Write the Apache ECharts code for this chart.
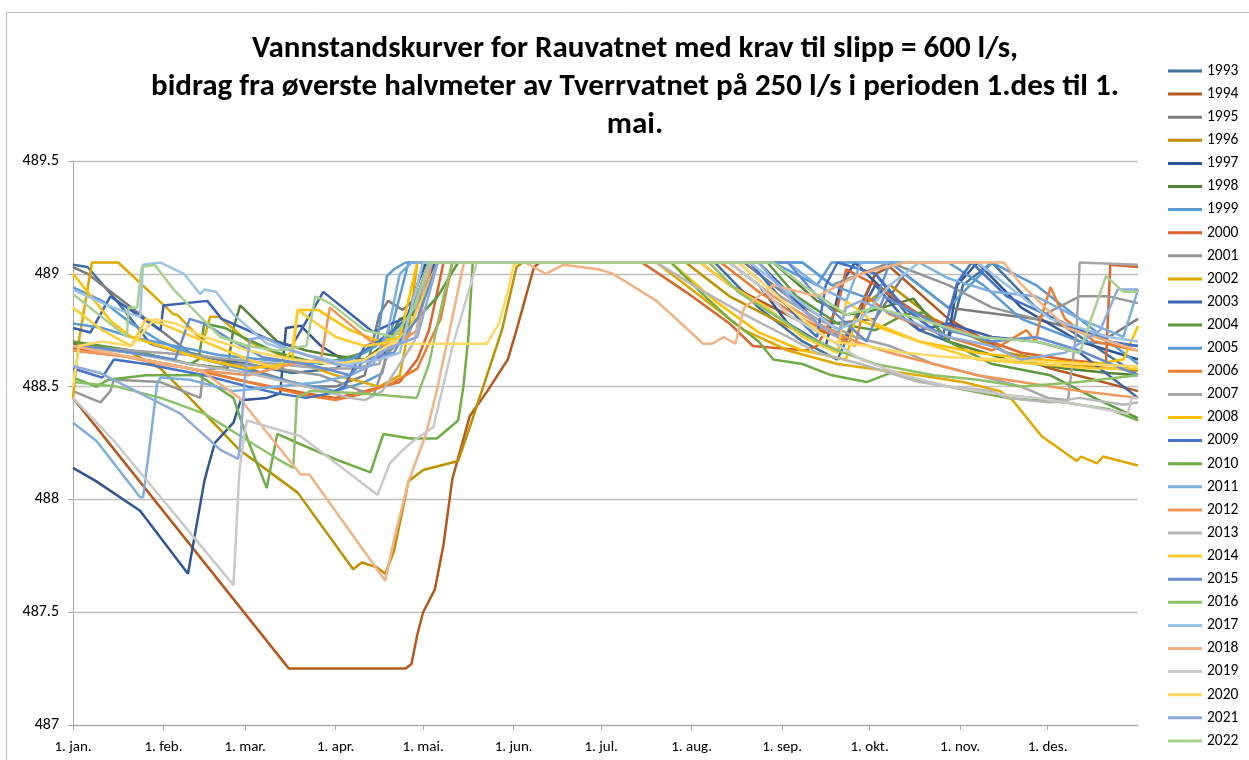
<!DOCTYPE html>
<html>
<head>
<meta charset="utf-8">
<script src="https://cdn.jsdelivr.net/npm/echarts@6/dist/echarts.min.js"></script>
<style>
  html, body { margin: 0; padding: 0; background: #fff; }
  #chart { width: 1249px; height: 760px; }
</style>
</head>
<body>
<div id="chart"></div>
<script>
// x = dag i året (0 = 1. jan.), y = vannstand (moh)
const monthDays = [0, 31, 59, 90, 120, 151, 181, 212, 243, 273, 304, 334];
const monthLabels = ['1. jan.', '1. feb.', '1. mar.', '1. apr.', '1. mai.', '1. jun.',
  '1. jul.', '1. aug.', '1. sep.', '1. okt.', '1. nov.', '1. des.'];

const years = ['1993', '1994', '1995', '1996', '1997', '1998', '1999', '2000', '2001', '2002',
  '2003', '2004', '2005', '2006', '2007', '2008', '2009', '2010', '2011', '2012',
  '2013', '2014', '2015', '2016', '2017', '2018', '2019', '2020', '2021', '2022'];

const s1993 = [[0,489.04],[5,489.03],[15,488.88],[26.5,488.69],[40,488.64],[60,488.6],[75,488.56],[90,488.58],[100,488.66],[110,488.75],[118,488.85],[125,489.05],[220,489.05],[235,488.85],[250,488.7],[262,488.62],[270,488.85],[275,489.0],[290,488.75],[300,488.7],[305,488.95],[315,489.05],[330,488.85],[350,488.68],[365,488.55]];
const s1994 = [[0,488.45],[74,487.25],[114,487.25],[116,487.27],[118,487.4],[120,487.5],[124,487.6],[127,487.8],[130,488.09],[136,488.37],[142,488.48],[149,488.62],[152,488.75],[158,489.03],[160,489.05],[215,489.05],[225,488.95],[240,488.85],[255,488.75],[265,488.72],[275,489.0],[280,489.03],[300,488.8],[320,488.65],[335,488.58],[350,488.53],[365,488.48]];
const s1995 = [[0,489.03],[5,489.0],[15,488.9],[30,488.75],[40,488.65],[50,488.62],[60,488.58],[80,488.5],[90,488.5],[100,488.55],[105,488.82],[108,488.88],[113,488.84],[118,488.9],[122,489.05],[230,489.05],[245,488.9],[260,488.78],[275,488.8],[285,489.0],[300,488.85],[330,488.8],[345,488.75],[355,488.72],[365,488.8]];
const s1996 = [[0,488.68],[20,488.65],[30,488.58],[40,488.45],[57,488.22],[77,488.03],[96,487.69],[99,487.72],[104,487.7],[107,487.67],[110,487.77],[115,488.08],[120,488.13],[132,488.17],[136,488.32],[147,488.75],[152,489.03],[154,489.05],[210,489.05],[225,488.9],[240,488.8],[255,488.7],[262,488.66],[270,488.85],[280,488.95],[295,488.8],[320,488.65],[340,488.6],[365,488.57]];
const s1997 = [[0,488.14],[8,488.08],[23,487.95],[39.4,487.67],[45,488.08],[46,488.13],[48.6,488.25],[55,488.34],[57.5,488.44],[66.5,488.45],[71,488.47],[73,488.76],[78,488.77],[85,488.68],[95,488.6],[105,488.63],[112,488.7],[118,488.95],[121,489.05],[225,489.05],[235,488.95],[245,488.78],[258,488.68],[263,488.95],[268,489.05],[280,488.9],[295,488.75],[300,488.72],[303,488.95],[310,489.05],[325,488.85],[345,488.7],[365,488.62]];
const s1998 = [[0,488.69],[20,488.66],[40,488.6],[53,488.58],[55,488.76],[57.3,488.86],[70,488.7],[80,488.66],[88,488.64],[100,488.62],[108,488.7],[112,488.8],[117,488.82],[122,489.05],[240,489.05],[255,488.88],[265,488.82],[272,488.83],[288,488.89],[300,488.7],[320,488.62],[340,488.58],[355,488.56],[365,488.55]];
const s1999 = [[0,488.94],[10,488.88],[20,488.78],[30,488.7],[45,488.62],[60,488.57],[75,488.52],[90,488.48],[100,488.52],[106,488.56],[110,488.8],[115,489.05],[240,489.05],[255,488.95],[260,489.05],[280,489.05],[290,488.95],[300,488.85],[315,489.05],[330,488.95],[345,488.8],[365,488.6]];
const s2000 = [[0,488.67],[20,488.63],[40,488.58],[60,488.52],[80,488.47],[90,488.45],[100,488.48],[112,488.52],[118,488.62],[122,488.75],[127,489.05],[195,489.05],[210,488.92],[225,488.78],[233,488.68],[251,488.66],[255,488.68],[262,488.85],[265,489.02],[275,488.95],[290,488.82],[310,488.72],[325,488.65],[340,488.62],[354,488.6],[355.5,489.04],[365,489.03]];
const s2001 = [[0,488.48],[9.4,488.43],[12.8,488.48],[14,488.53],[30,488.52],[43.6,488.45],[44.7,488.57],[57,488.6],[70,488.58],[85,488.55],[95,488.5],[103,488.46],[108,488.65],[112,488.7],[117,488.87],[122,489.05],[250,489.05],[260,488.95],[280,489.05],[300,488.95],[315,488.85],[330,488.8],[345,488.9],[355,488.9],[365,488.87]];
const s2002 = [[0,488.45],[2,488.7],[6.5,489.05],[15.5,489.05],[34.5,488.82],[35.6,488.82],[44.7,488.7],[47,488.81],[50,488.81],[60,488.7],[75,488.62],[90,488.55],[105,488.5],[112,488.55],[115,488.75],[118,489.05],[200,489.05],[215,488.9],[230,488.75],[245,488.66],[262,488.6],[290,488.55],[305,488.52],[317.7,488.48],[322,488.44],[332,488.28],[344,488.17],[345.5,488.19],[351,488.16],[353,488.19],[365,488.15]];
const s2003 = [[0,488.76],[6,488.74],[12.8,488.9],[30,488.75],[31,488.86],[46,488.88],[51,488.8],[68.7,488.7],[75,488.68],[85.8,488.92],[103,488.74],[106,488.76],[113,488.8],[118,488.85],[124,489.05],[235,489.05],[245,488.92],[255,488.78],[265,488.72],[275,488.95],[285,488.8],[290,488.75],[300,488.78],[315,488.72],[330,488.7],[345,488.65],[365,488.45]];
const s2004 = [[0,488.7],[20,488.66],[40,488.6],[43,488.62],[45,488.78],[52,488.76],[58,488.72],[70,488.65],[85,488.6],[100,488.65],[108,488.72],[112,488.75],[118,488.8],[125,488.9],[132,489.05],[238,489.05],[248,488.9],[262,488.78],[275,488.75],[285,488.82],[292,488.83],[300,488.7],[315,488.6],[335,488.55],[350,488.45],[365,488.36]];
const s2005 = [[0,488.78],[10,488.76],[20,488.72],[35,488.68],[50,488.64],[65,488.62],[80,488.6],[95,488.62],[104,488.68],[107.6,488.99],[110,489.02],[114,489.05],[250,489.05],[260,488.95],[275,488.88],[280,489.05],[300,489.05],[312,488.95],[325,488.8],[345,488.7],[365,488.68]];
const s2006 = [[0,488.66],[20,488.63],[40,488.58],[60,488.52],[80,488.46],[90,488.44],[100,488.47],[110,488.52],[118,488.58],[123,488.72],[126,488.8],[130,489.05],[222,489.05],[235,488.92],[250,488.8],[262,488.72],[268,488.68],[272,488.9],[280,488.82],[300,488.72],[315,488.66],[326.8,488.75],[330,488.7],[331.4,488.79],[335,488.94],[340,488.8],[350,488.7],[365,488.66]];
const s2007 = [[0,488.68],[20,488.66],[40,488.64],[55,488.62],[70,488.6],[85,488.58],[95,488.58],[105,488.6],[108,488.75],[115,488.72],[122,489.05],[228,489.05],[240,488.92],[255,488.8],[268,488.72],[280,488.68],[295,488.6],[310,488.55],[325,488.5],[334,488.45],[341,488.44],[344,488.76],[345,489.05],[365,489.04]];
const s2008 = [[0,489.0],[13,488.79],[20,488.72],[30,488.68],[45,488.62],[60,488.58],[75,488.6],[77,488.84],[84,488.84],[95,488.75],[105,488.7],[112,488.72],[118,489.05],[205,489.05],[220,488.88],[235,488.74],[250,488.66],[265,488.62],[268,488.8],[290,488.7],[310,488.65],[330,488.62],[350,488.6],[360,488.62],[365,488.77]];
const s2009 = [[0,488.58],[5,488.56],[10,488.54],[14,488.62],[25,488.6],[45,488.55],[60,488.5],[70,488.47],[80,488.45],[88,488.47],[93,488.5],[100,488.68],[105,488.7],[110,488.75],[115,488.8],[120,489.05],[232,489.05],[242,488.9],[250,488.78],[255,488.72],[258,488.95],[262,489.05],[275,489.0],[285,488.85],[298,488.72],[303,488.96],[308,489.05],[320,488.9],[340,488.78],[355,488.7],[365,488.68]];
const s2010 = [[0,488.54],[8,488.5],[12,488.53],[25,488.55],[43,488.55],[55,488.45],[60,488.26],[66.4,488.05],[70,488.29],[77,488.25],[91.5,488.17],[102,488.12],[104,488.2],[106.4,488.29],[115.6,488.27],[124.7,488.27],[132,488.35],[133.8,488.5],[135.5,488.72],[137,489.05],[205,489.05],[215,488.92],[225,488.8],[235,488.7],[240,488.62],[250,488.6],[260,488.55],[272,488.52],[280,488.56],[300,488.5],[320,488.45],[340,488.43],[355,488.4],[365,488.35]];
const s2011 = [[0,488.34],[8,488.26],[23,488.01],[24,488.01],[26.5,488.26],[28.8,488.51],[30,488.54],[40,488.53],[55,488.48],[70,488.5],[85,488.52],[95,488.55],[103,488.6],[108,488.75],[112,489.0],[116,489.05],[245,489.05],[255,488.95],[265,488.88],[270,489.05],[290,489.05],[300,488.98],[315,488.92],[330,488.9],[345,488.8],[360,488.72],[365,488.93]];
const s2012 = [[0,488.66],[15,488.64],[30,488.6],[45,488.57],[60,488.55],[75,488.6],[85,488.62],[88,488.85],[103,488.69],[110,488.68],[118,488.75],[123,489.05],[225,489.05],[240,488.9],[255,488.78],[268,488.7],[280,488.65],[295,488.6],[310,488.55],[325,488.52],[345,488.48],[365,488.45]];
const s2013 = [[0,488.68],[20,488.65],[40,488.6],[60,488.56],[80,488.5],[95,488.45],[100,488.44],[106,488.48],[112,488.6],[117,488.7],[121,488.99],[123,489.05],[200,489.05],[215,488.93],[230,488.82],[245,488.72],[255,488.65],[270,488.6],[280,488.56],[290,488.52],[300,488.5],[315,488.48],[320,488.45],[335,488.43],[345,488.45],[360,488.42],[365,488.43]];
const s2014 = [[0,488.85],[10,488.75],[20,488.68],[25,488.8],[30,488.78],[45,488.7],[60,488.62],[70,488.58],[75,488.66],[77,488.84],[90,488.72],[100,488.68],[110,488.7],[115,488.75],[125,489.05],[215,489.05],[225,488.95],[238,488.85],[250,488.72],[262,488.65],[265,488.88],[275,488.78],[290,488.7],[310,488.62],[330,488.6],[350,488.58],[365,488.58]];
const s2015 = [[0,488.68],[10,488.67],[25,488.64],[35,488.62],[40,488.8],[45,488.78],[55,488.7],[65,488.63],[80,488.6],[95,488.55],[100,488.62],[110,488.65],[113,488.72],[118,488.8],[125,489.05],[245,489.05],[255,488.9],[265,488.78],[272,488.7],[278,488.9],[285,488.85],[300,488.75],[315,488.7],[330,488.72],[345,488.66],[365,488.55]];
const s2016 = [[0,488.52],[15,488.5],[30,488.45],[45,488.38],[55,488.3],[70,488.18],[75.5,488.14],[76.7,488.45],[81.3,488.48],[98.4,488.47],[117.8,488.45],[122,488.6],[127,488.9],[130,489.05],[218,489.05],[228,488.92],[240,488.82],[252,488.72],[262,488.66],[275,488.6],[295,488.55],[310,488.53],[325,488.5],[345,488.52],[365,488.55]];
const s2017 = [[0,488.93],[10,488.87],[20,488.82],[23,488.81],[24,489.04],[30,489.05],[38,489.0],[43.6,488.91],[45,488.93],[49,488.92],[55,488.82],[66.5,488.69],[80,488.64],[95,488.6],[105,488.62],[112,488.65],[116,488.85],[120,489.05],[232,489.05],[245,488.92],[262,488.75],[270,488.8],[280,488.95],[290,489.05],[310,489.05],[320,488.95],[335,488.8],[355,488.72],[365,488.7]];
const s2018 = [[0,488.68],[44,488.57],[57,488.45],[70,488.24],[78,488.11],[81,488.11],[107,487.64],[110,487.82],[115,488.08],[121,488.29],[125,488.5],[134,489.05],[155,489.05],[162,489.0],[168,489.04],[180,489.02],[185,489.0],[200,488.88],[216,488.69],[219,488.69],[223,488.72],[227,488.69],[230,488.85],[240,488.95],[255,488.9],[270,489.0],[285,489.05],[319,489.05],[324.5,488.96],[340.5,488.76],[365,488.66]];
const s2019 = [[0,488.45],[14,488.26],[55,487.62],[57,488.12],[58.4,488.26],[59.6,488.35],[78,488.28],[104.4,488.02],[108.6,488.16],[112.3,488.21],[116.7,488.26],[123.5,488.32],[130.3,488.69],[136,488.94],[138.4,489.05],[225,489.05],[235,488.95],[245,488.82],[258,488.72],[270,488.62],[285,488.55],[300,488.5],[315,488.47],[330,488.45],[345,488.42],[361.6,488.38],[362.8,488.45],[365,488.45]];
const s2020 = [[0,488.5],[2,488.68],[10,488.7],[20,488.68],[28,488.8],[35,488.78],[45,488.72],[60,488.66],[75,488.62],[90,488.6],[100,488.62],[109,488.69],[141.8,488.69],[146,488.78],[149,488.92],[151,489.04],[153,489.05],[228,489.05],[240,488.92],[250,488.8],[260,488.7],[272,488.68],[285,488.65],[300,488.63],[320,488.62],[345,488.6],[365,488.59]];
const s2021 = [[0,488.59],[9.4,488.56],[36.8,488.38],[50.5,488.22],[56.6,488.18],[57.3,488.25],[59,488.55],[60.7,488.71],[65,488.72],[75,488.66],[90,488.6],[100,488.58],[105,488.65],[110,488.68],[118,488.72],[125,489.05],[235,489.05],[245,488.9],[255,488.78],[262,488.72],[265,488.85],[270,488.88],[285,488.8],[300,488.72],[315,488.68],[325,488.62],[340,488.65],[352,488.75],[358,488.93],[365,488.93]];
const s2022 = [[0,488.91],[18.5,488.72],[19,488.85],[22,488.85],[23.6,489.03],[28,489.04],[34.5,488.93],[50.5,488.72],[60,488.68],[70,488.66],[80,488.68],[83,488.9],[88,488.87],[100,488.75],[110,488.72],[117,488.85],[122,489.05],[240,489.05],[250,488.95],[265,488.82],[275,488.85],[290,488.8],[310,488.72],[330,488.7],[345,488.65],[354,488.99],[360,488.92],[365,488.92]];

const yearData = [s1993, s1994, s1995, s1996, s1997, s1998, s1999, s2000, s2001, s2002,
  s2003, s2004, s2005, s2006, s2007, s2008, s2009, s2010, s2011, s2012,
  s2013, s2014, s2015, s2016, s2017, s2018, s2019, s2020, s2021, s2022];

const palette = ['#41719C', '#B5591F', '#7C7C7C', '#BF9000', '#2F5597', '#548235',
  '#5B9BD5', '#D9662B', '#969696', '#E0A800', '#3A62B0', '#5E9A3C',
  '#5B9BD5', '#ED7D31', '#A5A5A5', '#FFC000', '#4472C4', '#70AD47',
  '#7CAFDD', '#F1975A', '#B7B7B7', '#FFCD33', '#698ED0', '#8CC168',
  '#9DC3E6', '#F4B183', '#C9C9C9', '#FFD966', '#8FAADC', '#A9D18E'];

const font = 'Calibri, Carlito, Lato, "Open Sans", sans-serif';

const chart = echarts.init(document.getElementById('chart'));

const option = {
  animation: false,
  color: palette,
  title: {
    text: 'Vannstandskurver for Rauvatnet med krav til slipp = 600 l/s,\n' +
      'bidrag fra øverste halvmeter av Tverrvatnet på 250 l/s i perioden 1.des til 1.\nmai.',
    left: 630,
    top: 25,
    textAlign: 'center',
    textStyle: {
      fontFamily: font,
      fontSize: 31,
      fontWeight: 'bold',
      color: '#000',
      lineHeight: 38
    }
  },
  legend: {
    orient: 'vertical',
    left: 1163,
    top: 58,
    height: 700,
    icon: 'rect',
    itemWidth: 34,
    itemHeight: 3,
    itemGap: 7.1,
    textStyle: { fontFamily: font, fontSize: 15.5, lineHeight: 16, color: '#000' },
    data: years
  },
  grid: { left: 73, right: 111, top: 161, bottom: 35 },
  xAxis: {
    type: 'value',
    min: 0,
    max: 365,
    axisLine: { lineStyle: { color: '#A6A6A6' } },
    axisTick: { customValues: monthDays, length: 5, lineStyle: { color: '#A6A6A6' } },
    axisLabel: {
      customValues: monthDays,
      margin: 15,
      fontFamily: font,
      fontSize: 15,
      color: '#000',
      formatter: v => monthLabels[monthDays.indexOf(v)]
    },
    splitLine: { show: false }
  },
  yAxis: {
    type: 'value',
    min: 487,
    max: 489.5,
    interval: 0.5,
    axisLine: { show: true, lineStyle: { color: '#A6A6A6' } },
    axisTick: { show: true, length: 5, lineStyle: { color: '#A6A6A6' } },
    axisLabel: { margin: 14, fontFamily: font, fontSize: 16, color: '#000' },
    splitLine: { lineStyle: { color: '#BFBFBF', width: 1.3 } }
  },
  graphic: [{
    type: 'rect',
    shape: { x: 6.5, y: 12.5, width: 1300, height: 800 },
    style: { fill: 'none', stroke: '#BFBFBF', lineWidth: 1 },
    silent: true
  }],
  series: years.map((y, i) => ({
    name: y,
    type: 'line',
    data: yearData[i],
    showSymbol: false,
    symbol: 'none',
    lineStyle: { width: 2.5 }
  }))
};

chart.setOption(option);
</script>
</body>
</html>
